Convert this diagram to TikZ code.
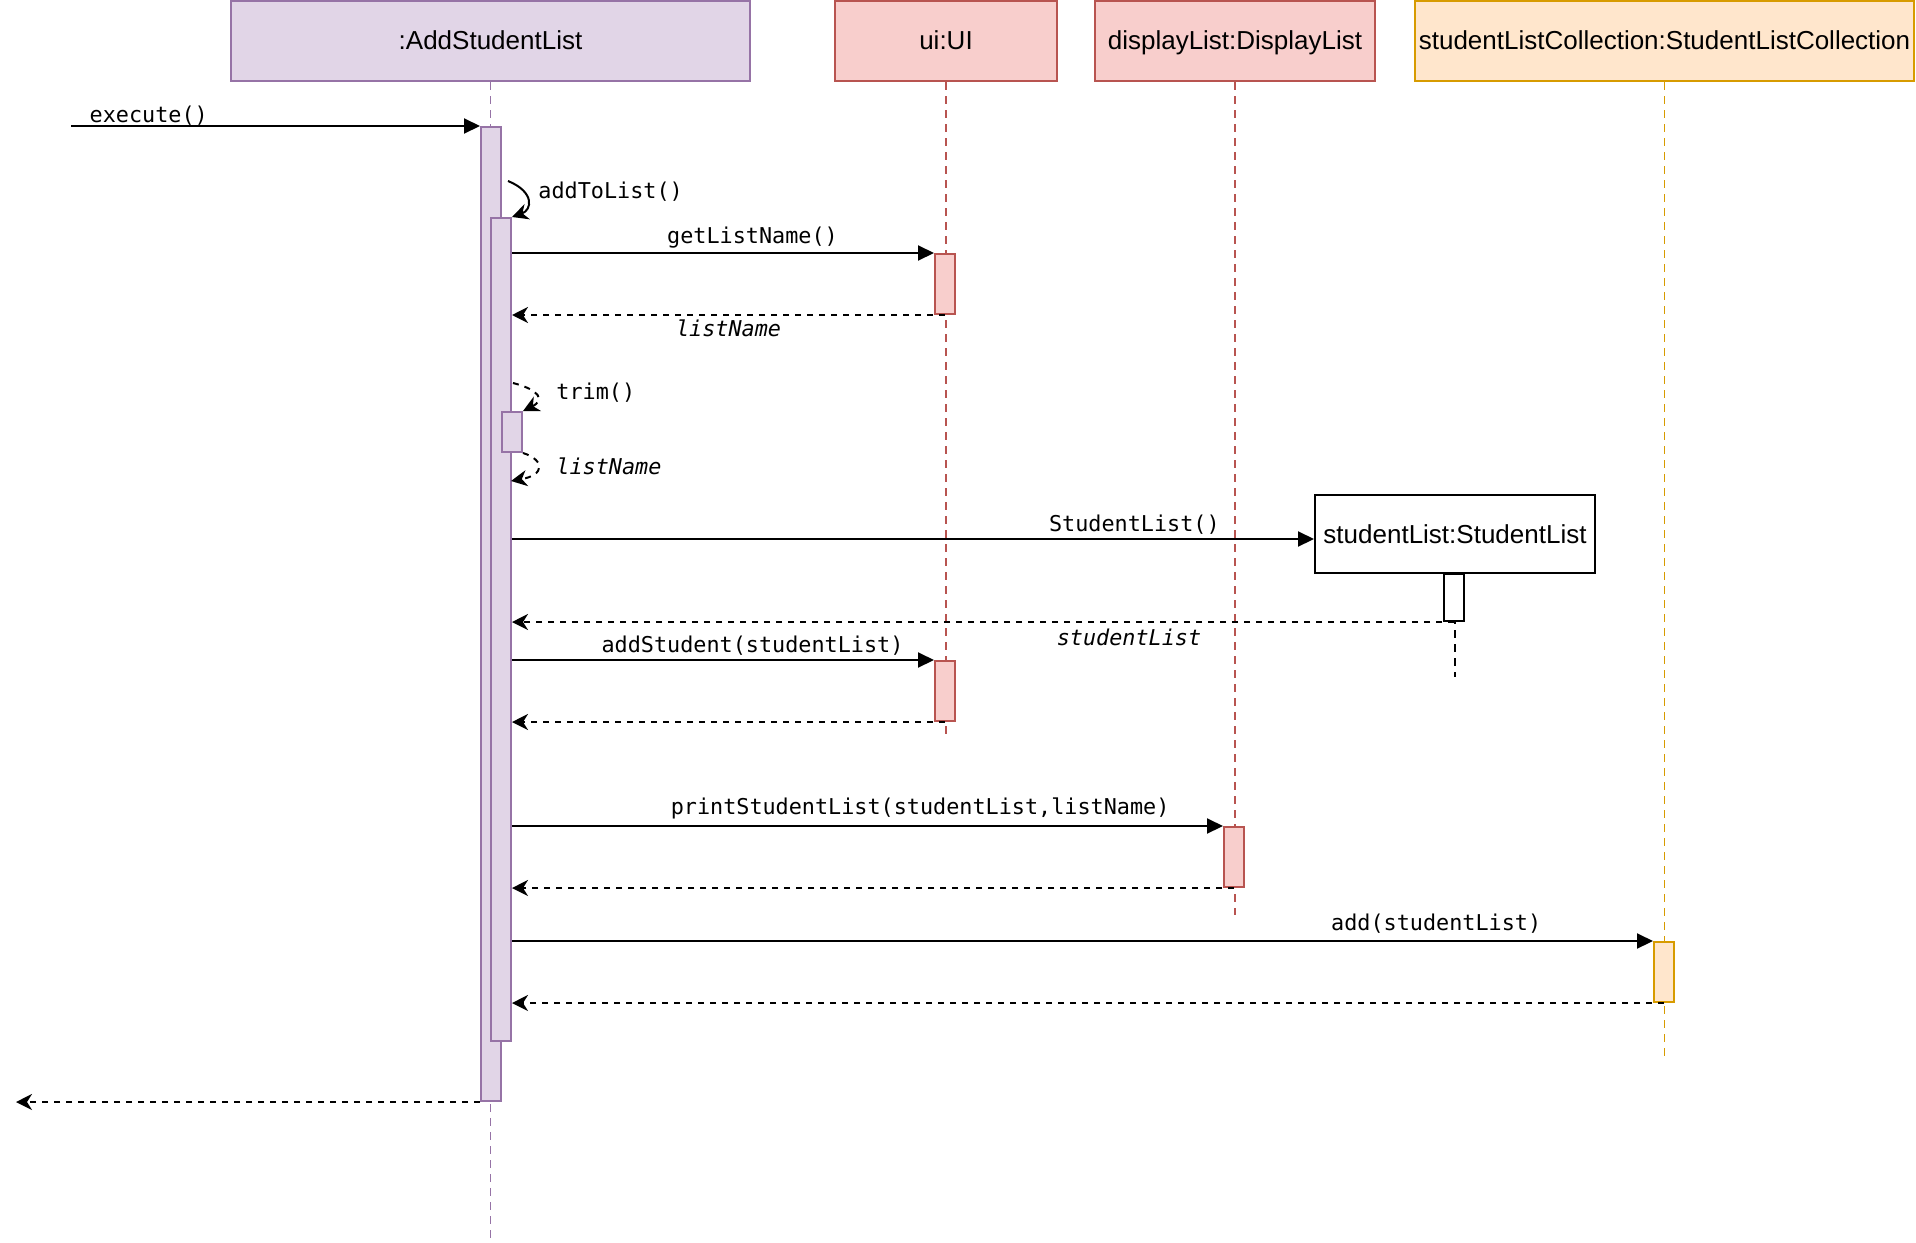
\documentclass[tikz,border=0pt]{standalone}
\usepackage{fontspec}
\setsansfont{Liberation Sans}
\setmonofont{DejaVu Sans Mono}
\usetikzlibrary{arrows.meta}
\definecolor{purplefill}{HTML}{E1D5E7}
\definecolor{purpleline}{HTML}{9673A6}
\definecolor{redfill}{HTML}{F8CECC}
\definecolor{redline}{HTML}{B85450}
\definecolor{orangefill}{HTML}{FFE6CC}
\definecolor{orangeline}{HTML}{D79B00}
\tikzset{
  head/.style={draw, line width=1pt, minimum height=40pt, inner sep=0pt, text height=9.5pt, text depth=1.5pt, font=\sffamily\fontsize{13}{15}\selectfont},
  bar/.style={draw, line width=1pt, minimum width=10pt, anchor=north, inner sep=0pt},
  life/.style={line width=0.8pt, dash pattern=on 4pt off 3pt},
  call/.style={line width=1pt, -{Triangle[length=8pt, width=7.5pt]}},
  reply/.style={line width=1pt, dash pattern=on 3pt off 3pt, -{Stealth[length=8pt, width=8pt, inset=2.5pt]}},
  msg/.style={font=\ttfamily\fontsize{10.9}{13}\selectfont, inner sep=2pt},
  ret/.style={msg, font=\ttfamily\itshape\fontsize{10.9}{13}\selectfont}
}
\begin{document}
\begin{tikzpicture}[x=0.5pt, y=-0.5pt]
    \useasboundingbox (0,0) rectangle (1916,1242);
    \node (hA) at (490.5,41)[head, fill=purplefill, draw=purpleline, minimum width=259.5pt] {:AddStudentList};
    \node (hUI) at (946,41)[head, fill=redfill, draw=redline, minimum width=111pt] {ui:UI};
    \node (hDisp) at (1235,41)[head, fill=redfill, draw=redline, minimum width=140pt] {displayList:DisplayList};
    \node (hColl) at (1664.5,41)[head, fill=orangefill, draw=orangeline, minimum width=249.5pt] {studentListCollection:StudentListCollection};

    \draw[life, purpleline] (hA.south) -- +(0,1157);
    \draw[life, redline] (hUI.south) -- +(0,652);
    \draw[life, redline] (hDisp.south) -- +(0,833);
    \draw[life, orangeline] (hColl.south) -- +(0,976);

    \node (sl) at (1455,534)[draw, line width=1pt, fill=white, minimum width=140pt, minimum height=39pt, inner sep=0pt, font=\sffamily\fontsize{13}{15}\selectfont] {studentList:StudentList};
    \draw[life, black] (sl.south) -- +(0,103);

    \node (outer) at (491,126)[bar, fill=purplefill, draw=purpleline, minimum height=487pt] {};
    \node (inner) at (501,217)[bar, fill=purplefill, draw=purpleline, minimum height=411.5pt] {};
    \node (trimbar) at (512,411)[bar, fill=purplefill, draw=purpleline, minimum height=20pt] {};
    \node (ui1) at (945,253)[bar, fill=redfill, draw=redline, minimum height=30pt] {};
    \node (ui2) at (945,660)[bar, fill=redfill, draw=redline, minimum height=30pt] {};
    \node (disp) at (1234,826)[bar, fill=redfill, draw=redline, minimum height=30pt] {};
    \node (coll) at (1664,941)[bar, fill=orangefill, draw=orangeline, minimum height=30pt] {};
    \node (slbar) at (1454,573)[bar, fill=white, draw=black, minimum height=23.5pt] {};

    \coordinate (entry) at (71,0);
    \draw[call] (entry |- outer.north west) -- node[msg, above, pos=0.19, yshift=-2pt] (lblE) {execute()} (outer.north west);

    \coordinate (selfA) at (508,181);
    \draw[line width=1pt, -{Stealth[length=8pt, width=8pt, inset=2.5pt]}] (selfA) .. controls (535,192) and (532,210) .. (inner.north east);
    \node (lblA) at (534,192)[msg, anchor=west] {addToList()};

    \draw[call] (inner.east |- ui1.north) -- node[msg, above, pos=0.57] (lblG) {getListName()} (ui1.north west);
    \draw[reply] (ui1.south) -- node[ret, below, pos=0.5] (lblR1) {listName} (inner.east |- ui1.south);

    \coordinate (selfB) at (513,383);
    \draw[reply] (selfB) .. controls (540,390) and (545,400) .. (trimbar.north east);
    \node (lblB) at (552,393)[msg, anchor=west] {trim()};
    \coordinate (selfC) at (511,481);
    \draw[reply] (trimbar.south east) .. controls (545,460) and (545,475) .. (selfC);
    \node (lblC) at (552,466)[ret, anchor=west] {listName};

    \coordinate (slin) at ([yshift=-2.5pt]sl.west);
    \draw[call] (inner.east |- slin) -- node[msg, above, pos=0.776] (lblS) {StudentList()} (slin);
    \draw[reply] (slbar.south) -- node[ret, below, pos=0.345, yshift=-1pt] (lblR2) {studentList} (inner.east |- slbar.south);

    \draw[call] (inner.east |- ui2.north) -- node[msg, above, pos=0.57] (lblAdd) {addStudent(studentList)} (ui2.north west);
    \draw[reply] (ui2.south) -- (inner.east |- ui2.south);

    \draw[call] (inner.east |- disp.north) -- node[msg, above, pos=0.574, yshift=1pt] (lblP) {printStudentList(studentList,listName)} (disp.north west);
    \draw[reply] (disp.south) -- (inner.east |- disp.south);

    \draw[call] (inner.east |- coll.north) -- node[msg, above, pos=0.81, yshift=1.5pt] (lblC2) {add(studentList)} (coll.north west);
    \draw[reply] (coll.south) -- (inner.east |- coll.south);

    \coordinate (exit) at (16,0);
    \draw[reply] (outer.south west) -- (exit |- outer.south west);
\end{tikzpicture}
\end{document}
